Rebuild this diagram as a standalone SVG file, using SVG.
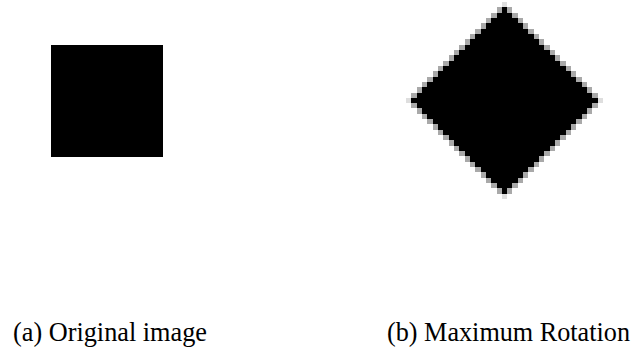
<svg xmlns="http://www.w3.org/2000/svg" width="634" height="349" viewBox="0 0 634 349">
<style>
.lbl{font-family:"Liberation Serif","Times New Roman",serif;font-size:26.5px;fill:#000}
</style>
<rect width="634" height="349" fill="#fff"/>
<g id="original">
<rect x="51" y="45" width="112" height="112" fill="#000"/>
</g>
<g id="rotated" transform="translate(504.5,100.5) scale(5.33)" shape-rendering="crispEdges">
<path fill="#a9a9a9" d="M-0.5,-18.5h1v1h1v1h1v1h1v1h1v1h1v1h1v1h1v1h1v1h1v1h1v1h1v1h1v1h1v1h1v1h1v1h1v1h1v1h1v1h-1v1h-1v1h-1v1h-1v1h-1v1h-1v1h-1v1h-1v1h-1v1h-1v1h-1v1h-1v1h-1v1h-1v1h-1v1h-1v1h-1v1h-1v1h-1v-1h-1v-1h-1v-1h-1v-1h-1v-1h-1v-1h-1v-1h-1v-1h-1v-1h-1v-1h-1v-1h-1v-1h-1v-1h-1v-1h-1v-1h-1v-1h-1v-1h-1v-1h-1v-1h1v-1h1v-1h1v-1h1v-1h1v-1h1v-1h1v-1h1v-1h1v-1h1v-1h1v-1h1v-1h1v-1h1v-1h1v-1h1v-1h1v-1h1v-1z"/>
<path fill="#000" d="M-0.5,-17.5h1v1h1v1h1v1h1v1h1v1h1v1h1v1h1v1h1v1h1v1h1v1h1v1h1v1h1v1h1v1h1v1h1v1h1v1h-1v1h-1v1h-1v1h-1v1h-1v1h-1v1h-1v1h-1v1h-1v1h-1v1h-1v1h-1v1h-1v1h-1v1h-1v1h-1v1h-1v1h-1v-1h-1v-1h-1v-1h-1v-1h-1v-1h-1v-1h-1v-1h-1v-1h-1v-1h-1v-1h-1v-1h-1v-1h-1v-1h-1v-1h-1v-1h-1v-1h-1v-1h-1v-1h1v-1h1v-1h1v-1h1v-1h1v-1h1v-1h1v-1h1v-1h1v-1h1v-1h1v-1h1v-1h1v-1h1v-1h1v-1h1v-1h1v-1z"/>
<g fill="#dedede">
<rect x="-0.5" y="-18.5" width="1" height="1"/>
<rect x="-0.5" y="17.5" width="1" height="1"/>
<rect x="-18.5" y="-0.5" width="1" height="1"/>
<rect x="17.5" y="-0.5" width="1" height="1"/>
</g>
</g>
<g id="labels">
<text class="lbl" x="13" y="341" textLength="194" lengthAdjust="spacingAndGlyphs">(a) Original image</text>
<text class="lbl" x="387" y="341" textLength="243" lengthAdjust="spacingAndGlyphs">(b) Maximum Rotation</text>
</g>
</svg>
